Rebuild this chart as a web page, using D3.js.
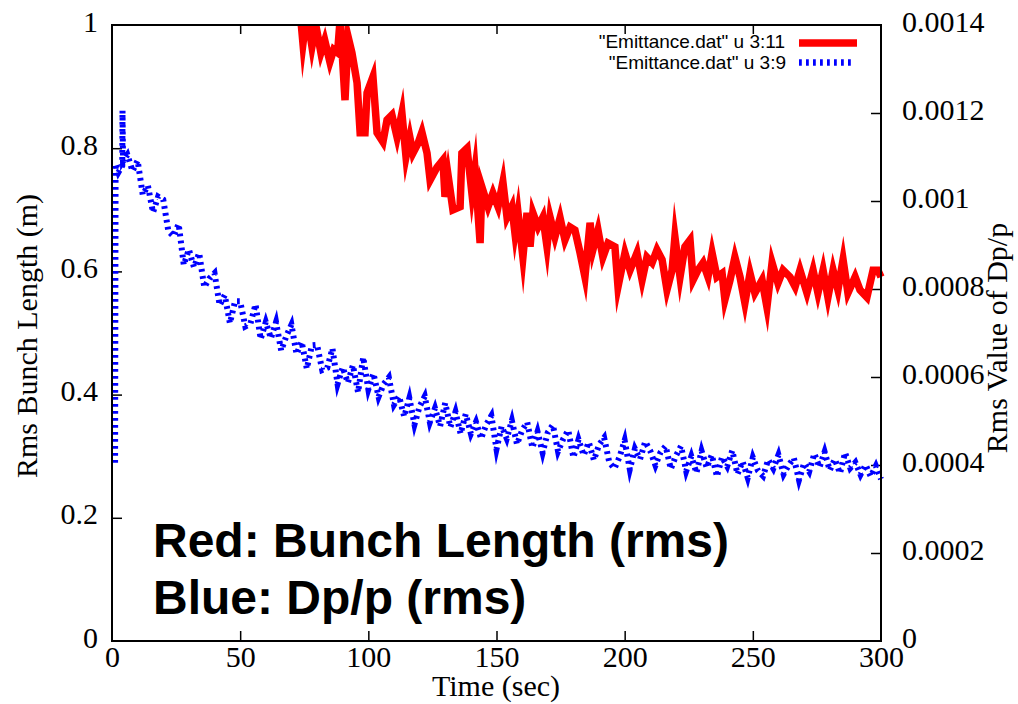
<!DOCTYPE html>
<html>
<head>
<meta charset="utf-8">
<script src="https://cdn.jsdelivr.net/npm/d3@7/dist/d3.min.js"></script>
<style>
  html, body { margin: 0; padding: 0; background: #fff; }
  svg { display: block; }
</style>
</head>
<body>
<svg id="chart" width="1018" height="704"></svg>
<script>
// Emittance.dat, column 3 (time) against column 11 (rms bunch length, left axis)
const redTime = [70, 73, 74.5, 76, 78, 79.5, 81.5, 83, 85, 86.5, 88, 89, 90.9, 92.1, 93.6, 95.6, 96.8, 98.7, 99.5,
  101.8, 103.4, 105.7, 107.3, 109.2, 111.2, 113.1, 114.7, 116.2, 117.4, 119.4, 120.9, 122.9, 124.1, 126.8,
  129.1, 129.9, 131.1, 133.0, 135.8, 136.5, 138.5, 140.4, 141.6, 143.6, 144.3, 146.7, 148.6, 150.6, 152.5,
  154.1, 156.0, 157.2, 158.4, 160.3, 161.9, 163.1, 164.2, 166.2, 168.1, 169.7, 170.9, 172.8, 174.8, 176.7,
  178.7, 180.6, 182.6, 184.5, 186.5, 187.6, 189.6, 191.5, 193.5, 196.2, 197.4, 200.1, 202.1, 204.8, 206.8,
  208.7, 210.7, 212.6, 214.6, 216.5, 218.5, 219.6, 221.6, 223.5, 225.5, 226.7, 228.6, 230.6, 232.5, 234.1,
  236.0, 238.0, 239.1, 241.1, 243.0, 245.0, 246.9, 248.9, 250.8, 253.6, 255.5, 257.5, 259.8, 261.8, 264.5,
  266.5, 268.4, 271.1, 273.5, 275.4, 277.4, 279.3, 281.3, 283.2, 285.2, 287.1, 289.9, 291.8, 294.5, 296.9,
  298.8, 300];
const redLength = [1.1, 1.04, 0.97, 1.02, 0.965, 1.0, 0.955, 0.975, 0.94, 0.96, 0.955, 1.01, 0.878, 0.981, 0.955, 0.906, 0.825, 0.825, 0.890,
  0.916, 0.825, 0.810, 0.846, 0.854, 0.818, 0.857, 0.786, 0.818, 0.792, 0.808, 0.826, 0.792, 0.748, 0.769,
  0.781, 0.721, 0.756, 0.700, 0.705, 0.792, 0.800, 0.727, 0.765, 0.646, 0.737, 0.705, 0.727, 0.705, 0.745,
  0.688, 0.705, 0.662, 0.695, 0.623, 0.695, 0.640, 0.695, 0.672, 0.688, 0.640, 0.688, 0.656, 0.687, 0.651,
  0.672, 0.667, 0.630, 0.591, 0.679, 0.635, 0.667, 0.623, 0.646, 0.640, 0.575, 0.630, 0.602, 0.630, 0.586,
  0.623, 0.614, 0.635, 0.619, 0.570, 0.602, 0.656, 0.591, 0.640, 0.651, 0.586, 0.602, 0.614, 0.591, 0.630,
  0.591, 0.597, 0.554, 0.586, 0.623, 0.591, 0.549, 0.597, 0.565, 0.586, 0.542, 0.614, 0.581, 0.602, 0.591,
  0.575, 0.602, 0.565, 0.602, 0.565, 0.602, 0.558, 0.602, 0.570, 0.619, 0.565, 0.591, 0.570, 0.558, 0.602,
  0.602, 0.591];

// Emittance.dat, column 3 (time) against column 9 (rms Dp/p, right axis)
const blueTime = [1.2, 1.4, 2.5, 4.0, 4.1, 4.3,
  6, 8, 10, 12, 14, 16, 18, 20, 22, 24, 26, 28, 30, 32, 34, 36, 38, 40, 42, 44, 46, 48, 50,
  52, 54, 56, 58, 60, 62, 64, 66, 68, 70, 72, 74, 76, 78, 80, 82, 84, 86, 88, 90, 92, 94, 96, 98, 100,
  102, 104, 106, 108, 110, 112, 114, 116, 118, 120, 122, 124, 126, 128, 130, 132, 134, 136, 138, 140,
  142, 144, 146, 148, 150, 152, 154, 156, 158, 160, 162, 164, 166, 168, 170, 172, 174, 176, 178, 180,
  182, 184, 186, 188, 190, 192, 194, 196, 198, 200, 202, 204, 206, 208, 210, 212, 214, 216, 218, 220,
  222, 224, 226, 228, 230, 232, 234, 236, 238, 240, 242, 244, 246, 248, 250, 252, 254, 256, 258, 260,
  262, 264, 266, 268, 270, 272, 274, 276, 278, 280, 282, 284, 286, 288, 290, 292, 294, 296, 298, 300];
const blueDpp = [0.000405, 0.001085, 0.001065, 0.001080, 0.001205, 0.001090,
  0.001105, 0.001068, 0.001092, 0.001014, 0.001035, 0.000974, 0.001010, 0.001003, 0.000931, 0.000920,
  0.000948, 0.000855, 0.000890, 0.000849, 0.000882, 0.000804, 0.000824, 0.000836, 0.000763, 0.000786,
  0.000722, 0.000772, 0.000772, 0.000715, 0.000721, 0.000765, 0.000686, 0.000725, 0.000688, 0.000725,
  0.000660, 0.000693, 0.000719, 0.000652, 0.000680, 0.000619, 0.000672, 0.000673, 0.000616, 0.000621,
  0.000665, 0.000584, 0.000622, 0.000587, 0.000627, 0.000565, 0.000645, 0.000572, 0.000608, 0.000555,
  0.000584, 0.000599, 0.000537, 0.000556, 0.000510, 0.000552, 0.000492, 0.000533, 0.000556, 0.000497,
  0.000529, 0.000488, 0.000541, 0.000486, 0.000521, 0.000471, 0.000516, 0.000471, 0.000498, 0.000460,
  0.000492, 0.000512, 0.000436, 0.000488, 0.000460, 0.000501, 0.000447, 0.000479, 0.000497, 0.000439,
  0.000476, 0.000428, 0.000474, 0.000491, 0.000431, 0.000459, 0.000479, 0.000417, 0.000458, 0.000422,
  0.000452, 0.000411, 0.000446, 0.000462, 0.000406, 0.000392, 0.000418, 0.000456, 0.000390, 0.000437,
  0.000413, 0.000453, 0.000432, 0.000399, 0.000429, 0.000443, 0.000391, 0.000421, 0.000443, 0.000386,
  0.000420, 0.000382, 0.000432, 0.000394, 0.000423, 0.000374, 0.000418, 0.000397, 0.000433, 0.000379,
  0.000408, 0.000371, 0.000417, 0.000387, 0.000375, 0.000412, 0.000392, 0.000423, 0.000379, 0.000400,
  0.000416, 0.000366, 0.000404, 0.000385, 0.000426, 0.000395, 0.000430, 0.000388, 0.000413, 0.000381,
  0.000428, 0.000393, 0.000406, 0.000378, 0.000400, 0.000374, 0.000398, 0.000368];

const xTicks = [0, 50, 100, 150, 200, 250, 300];
const yLeftTicks = [0, 0.2, 0.4, 0.6, 0.8, 1];
const yRightTicks = [0, 0.0002, 0.0004, 0.0006, 0.0008, 0.001, 0.0012, 0.0014];

const legendLabels = ['"Emittance.dat" u 3:11', '"Emittance.dat" u 3:9'];
const notes = ["Red: Bunch Length (rms)", "Blue: Dp/p (rms)"];

const plot = { left: 112, right: 881, top: 25, bottom: 641 };
const serif = "'Liberation Serif', 'Times New Roman', serif";
const sans = "'Liberation Sans', Arial, Helvetica, sans-serif";

const svg = d3.select("#chart");
svg.append("rect").attr("width", 1018).attr("height", 704).attr("fill", "#fff");

const x = d3.scaleLinear().domain([0, 300]).range([plot.left, plot.right]);
const yL = d3.scaleLinear().domain([0, 1]).range([plot.bottom, plot.top]);
const yR = d3.scaleLinear().domain([0, 0.0014]).range([plot.bottom, plot.top]);

svg.append("defs").append("clipPath").attr("id", "plotClip")
  .append("rect")
  .attr("x", plot.left - 10).attr("y", plot.top)
  .attr("width", plot.right - plot.left + 14).attr("height", plot.bottom - plot.top);

// Axes with inward ticks
function styleAxis(g, size) {
  g.attr("font-family", serif).attr("font-size", size);
  g.select(".domain").remove();
  g.selectAll(".tick line").attr("stroke", "#000").attr("stroke-width", 1.5);
  g.selectAll(".tick text").attr("fill", "#000")
    .style("font-family", serif).style("font-size", size + "px");
}

const gx = svg.append("g").attr("transform", `translate(0,${plot.bottom})`)
  .call(d3.axisBottom(x).tickValues(xTicks).tickFormat(d3.format("d")).tickSize(-10).tickPadding(5));
styleAxis(gx, 30);

const gxTop = svg.append("g").attr("transform", `translate(0,${plot.top})`)
  .call(d3.axisTop(x).tickValues(xTicks.slice(1, -1)).tickFormat("").tickSize(-9));
styleAxis(gxTop, 30);

const gyL = svg.append("g").attr("transform", `translate(${plot.left},0)`)
  .call(d3.axisLeft(yL).tickValues(yLeftTicks).tickFormat(d3.format("~g")).tickSize(-10).tickPadding(14));
styleAxis(gyL, 30);
gyL.selectAll(".tick text").attr("dy", "0.2em");

const gyR = svg.append("g").attr("transform", `translate(${plot.right},0)`)
  .call(d3.axisRight(yR).tickValues(yRightTicks).tickFormat(d3.format("~g")).tickSize(-10).tickPadding(21));
styleAxis(gyR, 30);
gyR.selectAll(".tick text").attr("dy", "0.2em");
gyL.selectAll(".tick").filter(d => d === 0 || d === 1).select("line").remove();
gyR.selectAll(".tick").filter(d => d === 0 || d === 0.0014).select("line").remove();
gx.selectAll(".tick").filter(d => d === 0 || d === 300).select("line").remove();

// Data lines
const plotArea = svg.append("g").attr("clip-path", "url(#plotClip)");

const blueLine = d3.line().x(d => x(d[0])).y(d => yR(d[1]));
plotArea.append("path")
  .datum(blueTime.map((t, i) => [t, blueDpp[i]]))
  .attr("d", blueLine)
  .attr("fill", "none")
  .attr("stroke", "#0000ff")
  .attr("stroke-width", 6)
  .attr("stroke-dasharray", "2.8,4.2")
  .attr("stroke-linejoin", "miter")
  .attr("stroke-miterlimit", 10);

const redLine = d3.line().x(d => x(d[0])).y(d => yL(d[1]));
plotArea.append("path")
  .datum(redTime.map((t, i) => [t, redLength[i]]))
  .attr("d", redLine)
  .attr("fill", "none")
  .attr("stroke", "#ff0000")
  .attr("stroke-width", 7.5)
  .attr("stroke-linejoin", "miter")
  .attr("stroke-miterlimit", 10);

// Frame
svg.append("rect")
  .attr("x", plot.left).attr("y", plot.top)
  .attr("width", plot.right - plot.left).attr("height", plot.bottom - plot.top)
  .attr("fill", "none").attr("stroke", "#000").attr("stroke-width", 2);

// Axis titles
svg.append("text")
  .attr("transform", "translate(37,336) rotate(-90)")
  .attr("text-anchor", "middle")
  .style("font-family", serif).style("font-size", "30px")
  .text("Rms Bunch Length (m)");

svg.append("text")
  .attr("transform", "translate(1007,338) rotate(-90)")
  .attr("text-anchor", "middle")
  .style("font-family", serif).style("font-size", "30px")
  .text("Rms Value of Dp/p");

svg.append("text")
  .attr("x", 496).attr("y", 696)
  .attr("text-anchor", "middle")
  .style("font-family", serif).style("font-size", "30px")
  .text("Time (sec)");

// Legend
const legend = svg.append("g");
legend.append("text").attr("x", 785).attr("y", 48).attr("text-anchor", "end")
  .style("font-family", sans).style("font-size", "19px").text(legendLabels[0]);
legend.append("text").attr("x", 786).attr("y", 69).attr("text-anchor", "end")
  .style("font-family", sans).style("font-size", "19px").text(legendLabels[1]);
legend.append("line").attr("x1", 799).attr("x2", 857).attr("y1", 43).attr("y2", 43)
  .attr("stroke", "#ff0000").attr("stroke-width", 7.5);
legend.append("line").attr("x1", 799).attr("x2", 855).attr("y1", 62.5).attr("y2", 62.5)
  .attr("stroke", "#0000ff").attr("stroke-width", 6.5).attr("stroke-dasharray", "2.8,4.2");

// Annotation
svg.append("text").attr("x", 153).attr("y", 557)
  .style("font-family", sans).style("font-weight", "bold").style("font-size", "48px")
  .text(notes[0]);
svg.append("text").attr("x", 153).attr("y", 614)
  .style("font-family", sans).style("font-weight", "bold").style("font-size", "48px")
  .text(notes[1]);
</script>
</body>
</html>
